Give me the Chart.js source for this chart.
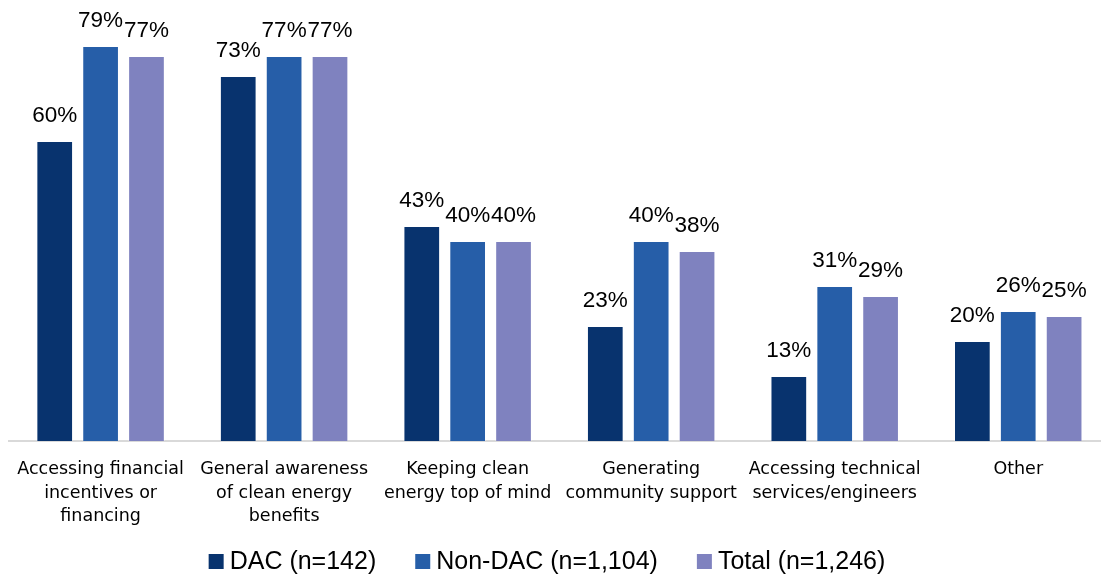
<!DOCTYPE html>
<html>
<head>
<meta charset="utf-8">
<script src="https://cdn.jsdelivr.net/npm/chart.js@4"></script>
<style>
  html, body { margin: 0; padding: 0; background: #fff; overflow: hidden; }
  #wrap { width: 1101px; height: 578px; overflow: hidden; }
</style>
</head>
<body>
<!-- the plot runs a little past the right edge, so the canvas is wider than the frame -->
<div id="wrap"><canvas id="barrierChart" width="1111" height="578"></canvas></div>
<script>
const categories = [
    ['Accessing financial', 'incentives or', 'financing'],
    ['General awareness', 'of clean energy', 'benefits'],
    ['Keeping clean', 'energy top of mind'],
    ['Generating', 'community support'],
    ['Accessing technical', 'services/engineers'],
    ['Other'],
];
const dacValues = [60, 73, 43, 23, 13, 20];
const nonDacValues = [79, 77, 40, 40, 31, 26];
const totalValues = [77, 77, 40, 38, 29, 25];
const seriesNames = ['DAC (n=142)', 'Non-DAC (n=1,104)', 'Total (n=1,246)'];
const seriesColors = ['#08336e', '#265ea8', '#7f82bf'];

// percent labels above each bar
const valueLabels = {
    id: 'valueLabels',
    afterDatasetsDraw(chart) {
        const ctx = chart.ctx;
        ctx.save();
        ctx.font = '22.5px "Liberation Sans", Arial, sans-serif';
        ctx.fillStyle = '#000';
        ctx.textAlign = 'center';
        ctx.textBaseline = 'alphabetic';
        chart.data.datasets.forEach((ds, i) => {
            chart.getDatasetMeta(i).data.forEach((bar, j) => {
                ctx.fillText(ds.data[j] + '%', bar.x, bar.y - 19);
            });
        });
        ctx.restore();
    }
};

// legend row under the axis: small square, tight gap, then the text
const bottomLegend = {
    id: 'bottomLegend',
    afterDraw(chart) {
        const ctx = chart.ctx;
        const box = 15, gap = 6, spacing = 39;
        ctx.save();
        ctx.font = '25px "Liberation Sans", Arial, sans-serif';
        ctx.textBaseline = 'alphabetic';
        ctx.textAlign = 'left';
        const items = chart.data.datasets.map(ds => ({
            text: ds.label,
            color: ds.backgroundColor,
            w: ctx.measureText(ds.label).width,
        }));
        const total = items.reduce((s, it) => s + box + gap + it.w, 0) + spacing * (items.length - 1);
        let x = 547 - total / 2;
        const baseline = chart.height - 9;
        items.forEach(it => {
            ctx.fillStyle = it.color;
            ctx.fillRect(x, baseline - 15, box, box);
            ctx.fillStyle = '#000';
            ctx.fillText(it.text, x + box + gap, baseline);
            x += box + gap + it.w + spacing;
        });
        ctx.restore();
    }
};

const ctx = document.getElementById('barrierChart').getContext('2d');
new Chart(ctx, {
    type: 'bar',
    data: {
        labels: categories,
        datasets: [
            { label: seriesNames[0], data: dacValues, backgroundColor: seriesColors[0] },
            { label: seriesNames[1], data: nonDacValues, backgroundColor: seriesColors[1] },
            { label: seriesNames[2], data: totalValues, backgroundColor: seriesColors[2] },
        ].map(d => Object.assign(d, {
            borderColor: 'rgba(255,255,255,0.3)',
            borderWidth: 1,
            categoryPercentage: 0.75,
            barPercentage: 0.8,
        })),
    },
    options: {
        responsive: false,
        animation: false,
        layout: { autoPadding: false, padding: { left: 4, right: 1, top: 1, bottom: 0 } },
        plugins: {
            legend: { display: false },
            tooltip: { enabled: false },
        },
        scales: {
            x: {
                grid: { display: false, drawTicks: false },
                border: { color: '#d9d9d9', width: 2 },
                ticks: {
                    color: '#000',
                    maxRotation: 0,
                    autoSkip: false,
                    padding: 17,
                    font: { family: '"DejaVu Sans", sans-serif', size: 17.5, lineHeight: '23.5px' },
                },
                // fixed band for the labels plus the legend row below
                afterFit(scale) { scale.height = 137; },
            },
            y: {
                display: false,
                min: 0,
                max: 88,
            },
        },
    },
    plugins: [valueLabels, bottomLegend],
});
</script>
</body>
</html>
